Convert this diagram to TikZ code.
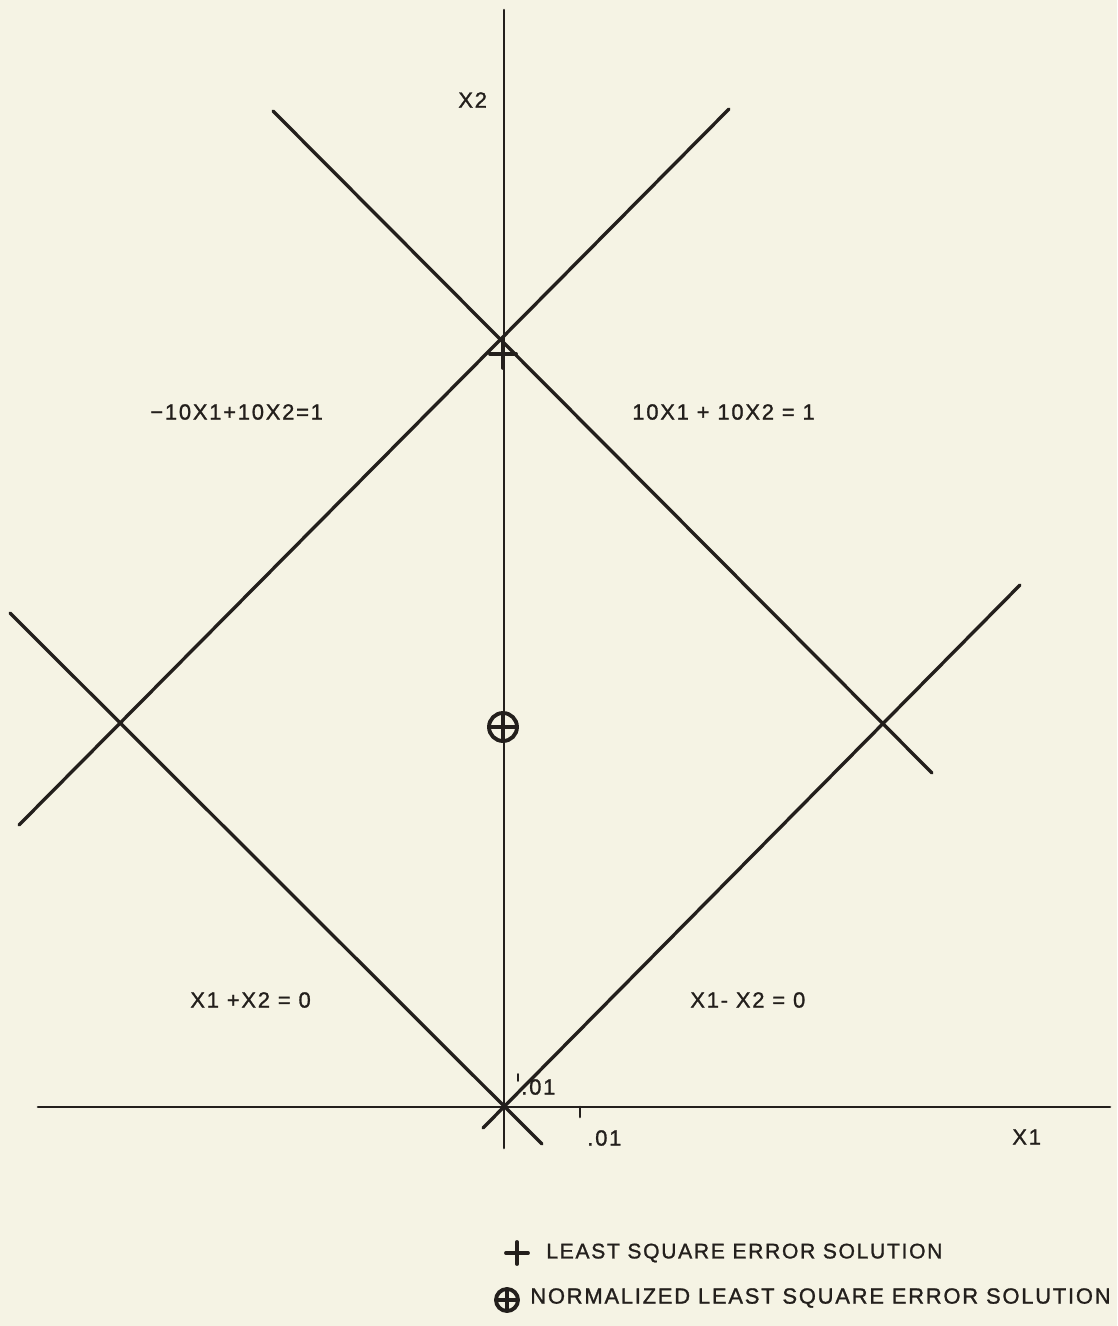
\documentclass[tikz,border=0pt]{standalone}
\usepackage{fontspec}
\setmainfont{Liberation Sans}[LetterSpace=8,FakeBold=1.2]
\definecolor{paper}{HTML}{F5F3E4}
\definecolor{ink}{HTML}{231F1C}
\begin{document}
\begin{tikzpicture}[x=0.02cm,y=-0.02cm,line cap=round,
  plotline/.style={draw=ink,line width=1.9pt},
  axisline/.style={draw=ink,line width=1.5pt},
  markline/.style={draw=ink,line width=2.2pt},
  lbl/.style={font=\fontsize{12.5}{14}\selectfont,inner sep=0pt,text=ink,anchor=west}]
\useasboundingbox (0,0) rectangle (1117,1326);
\fill[paper] (0,0) rectangle (1117,1326);
% axes
\coordinate (O) at (504,1107);
\coordinate (ytop) at (504,10);
\coordinate (ybot) at (504,1148);
\coordinate (xl) at (38,1107);
\coordinate (xr) at (1110,1107);
\draw[axisline] (ytop) -- (ybot);
\draw[axisline] (xl) -- (xr);
\draw[axisline] (580,1107) -- (580,1117);
\draw[axisline,line width=0.9pt] (518,1074) -- (518,1081);
% lines
\coordinate (a1) at (483,1128); \coordinate (a2) at (1020,585);
\coordinate (b1) at (10,613);   \coordinate (b2) at (542,1144);
\coordinate (c1) at (273,111);  \coordinate (c2) at (932,773);
\coordinate (d1) at (19,825);   \coordinate (d2) at (729,109);
\draw[plotline] (a1) -- (a2);
\draw[plotline] (b1) -- (b2);
\draw[plotline] (c1) -- (c2);
\draw[plotline] (d1) -- (d2);
% least square mark
\coordinate (ls) at (503,354);
\draw[markline] (ls) ++(-13,0) -- ++(26,0);
\draw[markline] (ls) ++(0,-13) -- ++(0,27);
% normalized mark
\coordinate (nls) at (503,727);
\draw[markline] (nls) circle[radius=14];
\draw[markline] (nls) ++(-14,0) -- ++(28,0);
\draw[markline] (nls) ++(0,-14) -- ++(0,28);
% labels
\node[lbl] (lx2) at (458,100) {X2};
\node[lbl] (leq1) at (150,412) {−10X1+10X2=1};
\node[lbl] (leq2) at (632,412) {10X1 + 10X2 = 1};
\node[lbl] (leq3) at (190,1000) {X1 +X2 = 0};
\node[lbl] (leq4) at (690,1000) {X1- X2 = 0};
\node[lbl] (ly01) at (521,1087) {.01};
\node[lbl] (lx01) at (587,1138) {.01};
\node[lbl] (lx1) at (1012,1137) {X1};
% legend
\coordinate (lp) at (517,1253);
\draw[markline] (lp) ++(-11,0) -- ++(22,0);
\draw[markline] (lp) ++(0,-11) -- ++(0,22);
\node[lbl,font=\fontsize{12}{14}\selectfont] (leg1) at (546,1253) {LEAST SQUARE ERROR SOLUTION};
\coordinate (lc) at (507,1300);
\draw[markline] (lc) circle[radius=11];
\draw[markline] (lc) ++(-11,0) -- ++(22,0);
\draw[markline] (lc) ++(0,-11) -- ++(0,22);
\node[lbl] (leg2) at (530,1298) {NORMALIZED LEAST SQUARE ERROR SOLUTION};
\end{tikzpicture}
\end{document}
